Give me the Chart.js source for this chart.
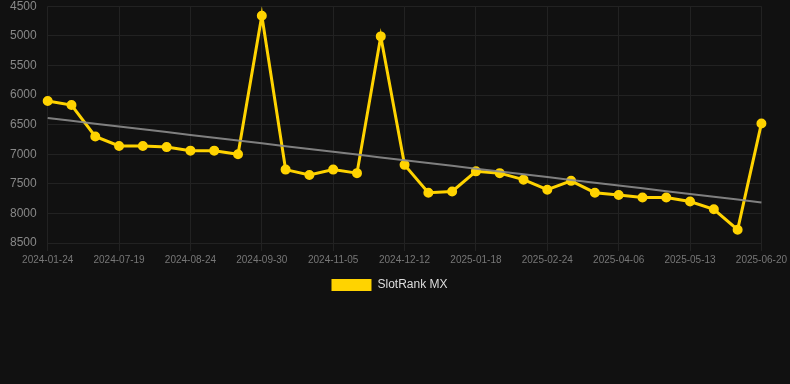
<!DOCTYPE html>
<html>
<head>
<meta charset="utf-8">
<script src="https://cdn.jsdelivr.net/npm/chart.js@4"></script>
<style>
  html, body { margin: 0; padding: 0; background: #111111; overflow: hidden; }
  #wrap { position: relative; top: -4px; width: 790px; height: 305px; }
</style>
</head>
<body>
<div id="wrap"><canvas id="c"></canvas></div>
<script>
const dates = [
  "2024-01-24","2024-06-25","2024-07-07","2024-07-19","2024-07-31","2024-08-12",
  "2024-08-24","2024-09-05","2024-09-18","2024-09-30","2024-10-12","2024-10-24",
  "2024-11-05","2024-11-17","2024-11-30","2024-12-12","2024-12-24","2025-01-06",
  "2025-01-18","2025-01-30","2025-02-11","2025-02-24","2025-03-08","2025-03-22",
  "2025-04-06","2025-04-18","2025-04-30","2025-05-13","2025-05-25","2025-06-07",
  "2025-06-20"
];
const rankValues = [
  6100, 6170, 6700, 6860, 6860, 6880, 6940, 6940, 7000, 4660,
  7260, 7350, 7260, 7320, 5010, 7180, 7650, 7630, 7290, 7320,
  7430, 7600, 7450, 7650, 7690, 7730, 7730, 7800, 7930, 8275,
  6480
];
const yTicks = [4500, 5000, 5500, 6000, 6500, 7000, 7500, 8000, 8500];
const seriesName = "SlotRank MX";

// linear regression trend from the data
function trend(vals) {
  const n = vals.length;
  let sx = 0, sy = 0, sxy = 0, sxx = 0;
  vals.forEach((v, i) => { sx += i; sy += v; sxy += i * v; sxx += i * i; });
  const b = (n * sxy - sx * sy) / (n * sxx - sx * sx);
  const a = (sy - b * sx) / n;
  return vals.map((_, i) => a + b * i);
}
const trendValues = trend(rankValues);
const gridCol = '#222222';
const xGrid = (ctx) => (ctx.index % 3 === 0 ? gridCol : 'rgba(0,0,0,0)');

new Chart(document.getElementById('c'), {
  type: 'line',
  data: {
    labels: dates,
    datasets: [
      {
        label: seriesName,
        data: rankValues,
        borderColor: '#FFD300',
        backgroundColor: '#FFD300',
        borderWidth: 3,
        pointRadius: 4,
        pointBorderWidth: 2,
        pointBackgroundColor: '#FFD300',
        pointBorderColor: '#FFD300',
        tension: 0,
        order: 1
      },
      {
        label: 'trend',
        data: trendValues,
        borderColor: 'rgba(140,140,140,0.9)',
        borderWidth: 2,
        pointRadius: 0,
        tension: 0,
        order: 0
      }
    ]
  },
  options: {
    responsive: true,
    maintainAspectRatio: false,
    animation: false,
    layout: { padding: { left: 7, right: 18, top: 0, bottom: 0 } },
    plugins: {
      legend: {
        position: 'bottom',
        labels: {
          color: '#dddddd',
          boxWidth: 40,
          boxHeight: 12,
          font: { size: 12 },
          generateLabels: (chart) => {
            const items = Chart.defaults.plugins.legend.labels.generateLabels(chart);
            items.forEach(it => { it.lineWidth = 0; });
            return items;
          },
          filter: (item) => item.text !== 'trend'
        }
      },
      tooltip: { enabled: false }
    },
    scales: {
      x: {
        grid: { color: xGrid, tickColor: xGrid },
        border: { display: false },
        ticks: {
          color: '#777777',
          font: { size: 10 },
          autoSkip: false,
          maxRotation: 0,
          callback: function (val, idx) { return idx % 3 === 0 ? dates[idx] : ''; }
        }
      },
      y: {
        reverse: true,
        min: yTicks[0],
        max: yTicks[yTicks.length - 1],
        afterBuildTicks: (axis) => { axis.ticks = yTicks.map(v => ({ value: v })); },
        grid: { color: gridCol, tickColor: 'rgba(0,0,0,0)' },
        border: { display: false },
        ticks: {
          color: '#888888',
          font: { size: 12 },
          callback: (v) => String(v)
        }
      }
    }
  }
});
</script>
</body>
</html>
